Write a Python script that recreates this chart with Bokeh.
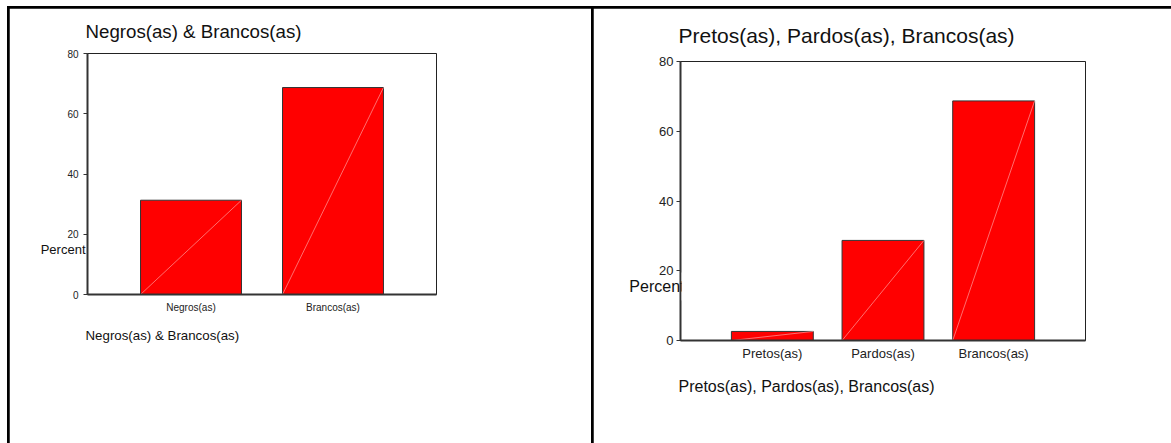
from bokeh.plotting import figure
from bokeh.layouts import row
from bokeh.models import (Range1d, FixedTicker, BoxAnnotation, ColumnDataSource,
                          Title, LinearAxis)
from bokeh.embed import file_html
from bokeh.resources import INLINE

FONT = "Liberation Sans"

# Chart 1: two groups
left_title = "Negros(as) & Brancos(as)"
left_categories = ["Negros(as)", "Brancos(as)"]
left_percent = [31.3, 68.7]

# Chart 2: three groups
right_title = "Pretos(as), Pardos(as), Brancos(as)"
right_categories = ["Pretos(as)", "Pardos(as)", "Brancos(as)"]
right_percent = [2.6, 28.7, 68.7]

y_ticks = [0, 20, 40, 60, 80]
y_max = 80
y_label = "Percent"


def bar_chart(title, categories, values, *, width, height, borders, pad, bar_w,
              title_size, tick_size, axis_title_size, ylabel_size,
              title_standoff, title_offset, xtitle_standoff, xtitle_offset,
              ylabel_at, ylabel_standoff, ylabel_cut,
              ytick_standoff, xtick_standoff):
    bl, br, bt, bb = borders
    n = len(categories)
    x0, x1 = -pad, n - 1 + pad
    p = figure(width=width, height=height,
               x_range=Range1d(x0, x1), y_range=Range1d(0, y_max),
               min_border_left=bl, min_border_right=br,
               min_border_top=bt, min_border_bottom=bb,
               output_backend="svg", toolbar_location=None,
               margin=(2, 0, 0, 2))
    p.frame_align = False
    p.xgrid.visible = False
    p.ygrid.visible = False
    p.outline_line_color = "#222222"
    p.outline_line_width = 1
    p.background_fill_color = "white"
    p.border_fill_color = "white"

    fw = width - bl - br
    sx = fw / (x1 - x0)

    xs = list(range(n))
    src = ColumnDataSource(dict(
        x=xs, top=values,
        x0=[x - bar_w / 2 for x in xs], x1=[x + bar_w / 2 for x in xs],
        y0=[0] * n,
    ))

    p.vbar(x="x", top="top", width=bar_w, source=src,
           fill_color="#ff0000", line_color="#333333", line_width=1)
    p.segment(x0="x0", y0="y0", x1="x1", y1="top", source=src,
              line_color="#ff9c9c", line_width=0.7)

    xa = p.xaxis[0]
    xa.ticker = FixedTicker(ticks=xs)
    xa.major_label_overrides = {i: c for i, c in enumerate(categories)}
    xa.major_tick_line_color = None
    xa.major_tick_out = 0
    xa.minor_tick_line_color = None
    xa.axis_line_width = 2
    xa.axis_line_color = "#333333"
    xa.major_label_text_font = FONT
    xa.major_label_text_font_size = f"{tick_size}px"
    xa.major_label_text_color = "#222222"
    xa.major_label_standoff = xtick_standoff

    ya = p.yaxis[0]
    ya.ticker = FixedTicker(ticks=y_ticks)
    ya.major_tick_out = 4
    ya.major_tick_in = 0
    ya.major_tick_line_color = "#333333"
    ya.minor_tick_line_color = None
    ya.axis_line_width = 2
    ya.axis_line_color = "#333333"
    ya.major_label_text_font = FONT
    ya.major_label_text_font_size = f"{tick_size}px"
    ya.major_label_text_color = "#222222"
    ya.major_label_standoff = ytick_standoff

    # "Percent" caption: a bare second axis whose single label hugs the value axis
    cap = LinearAxis(ticker=FixedTicker(ticks=[ylabel_at]),
                     major_label_overrides={ylabel_at: y_label},
                     axis_line_color=None, major_tick_line_color=None,
                     minor_tick_line_color=None, major_tick_out=0, major_tick_in=0,
                     minor_tick_out=0, minor_tick_in=0,
                     major_label_standoff=ylabel_standoff,
                     major_label_text_font=FONT,
                     major_label_text_font_size=f"{ylabel_size}px",
                     major_label_text_color="#111111")
    p.add_layout(cap, "left")
    if ylabel_cut:
        # the caption's last letter runs in behind the plot area
        p.add_layout(BoxAnnotation(left=x0 + 1.2 / sx, right=x0 + 10 / sx,
                                   bottom=ylabel_at - 4, top=ylabel_at + 4,
                                   fill_color="white", fill_alpha=1.0, line_alpha=0,
                                   level="annotation"))

    p.add_layout(Title(text=title, align="left", vertical_align="middle",
                       offset=title_offset, standoff=title_standoff,
                       text_font=FONT, text_font_size=f"{title_size}px",
                       text_font_style="normal", text_color="#111111"), "above")
    p.add_layout(Title(text=title, align="left", offset=xtitle_offset,
                       standoff=xtitle_standoff,
                       text_font=FONT, text_font_size=f"{axis_title_size}px",
                       text_font_style="normal", text_color="#111111"), "below")
    return p


left = bar_chart(left_title, left_categories, left_percent,
                 width=582, height=435, borders=(78, 155, 45, 149),
                 pad=0.729, bar_w=0.711,
                 title_size=18.7, tick_size=10, axis_title_size=13.3, ylabel_size=13,
                 title_standoff=22, title_offset=-2, xtitle_standoff=21, xtitle_offset=-2,
                 ylabel_at=14.9, ylabel_standoff=-21, ylabel_cut=False,
                 ytick_standoff=5, xtick_standoff=7)

right = bar_chart(right_title, right_categories, right_percent,
                  width=578, height=435, borders=(87, 86, 53, 103),
                  pad=0.83, bar_w=0.74,
                  title_size=21, tick_size=13, axis_title_size=16, ylabel_size=16,
                  title_standoff=28, title_offset=-2, xtitle_standoff=25, xtitle_offset=-2,
                  ylabel_at=15.5, ylabel_standoff=-28, ylabel_cut=True,
                  ytick_standoff=3, xtick_standoff=5)

layout = row(left, right, margin=(6, 0, 0, 7), styles={"background-color": "black"})

open("out.html", "w").write(file_html(layout, INLINE))
